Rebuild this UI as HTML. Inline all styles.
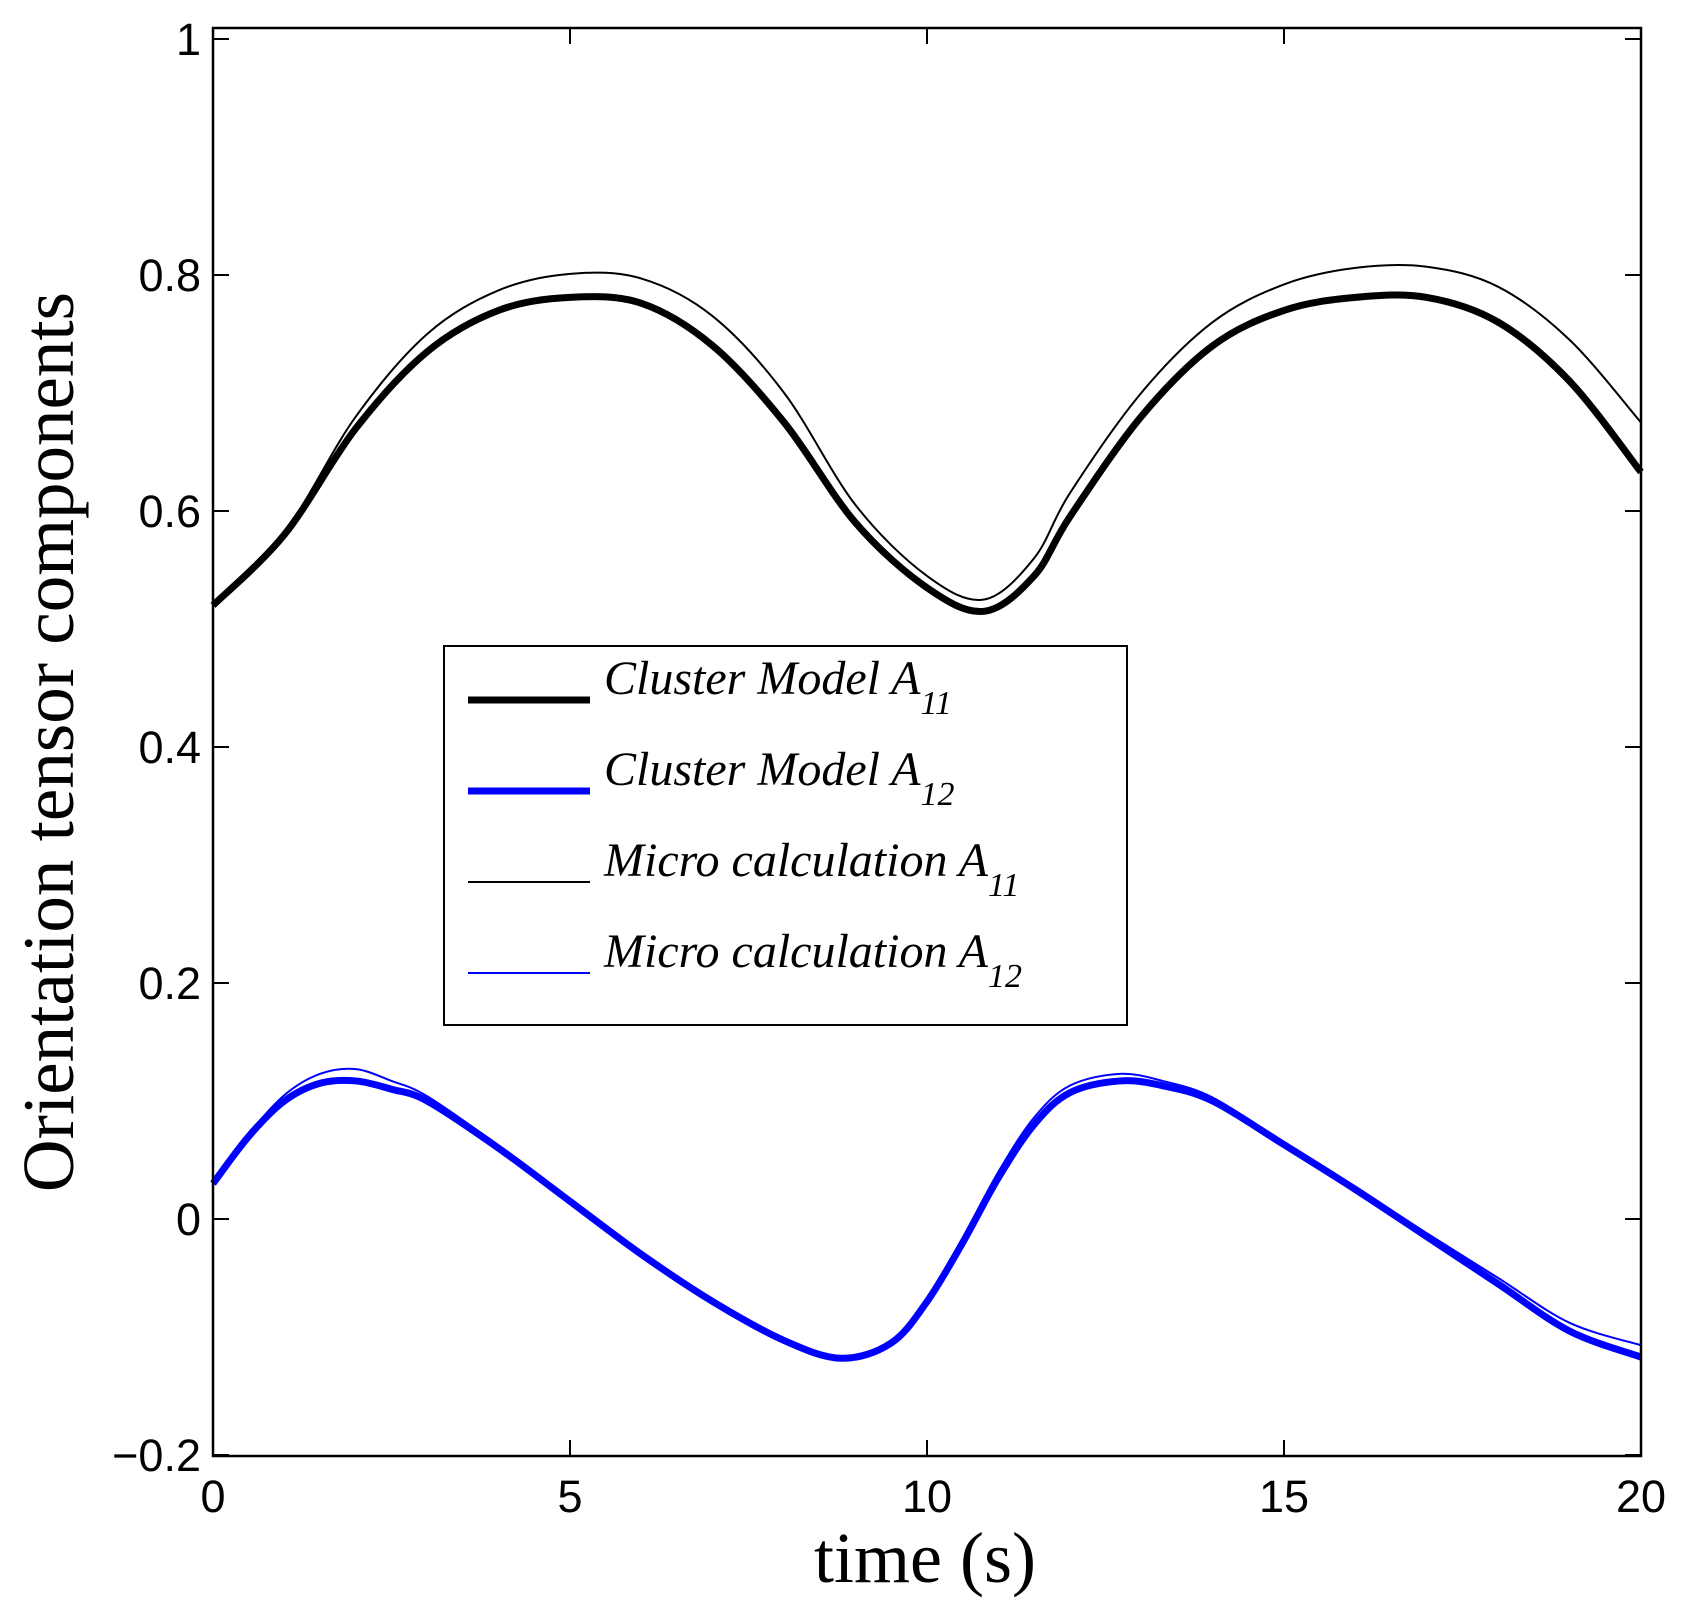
<!DOCTYPE html>
<html><head><meta charset="utf-8"><style>body{margin:0;background:#fff}svg{display:block}</style></head>
<body>
<svg id="chart" width="1686" height="1615" xmlns="http://www.w3.org/2000/svg">
<g id="plot"></g>
</svg>
<script>
const tTicks=[0,5,10,15,20];
const yTicks=[-0.2,0,0.2,0.4,0.6,0.8,1];
const yTickLabels=["\u22120.2","0","0.2","0.4","0.6","0.8","1"];
const tA11=[0,1,2,3,4,5,6,7,8,9,10,10.8,11.5,12,13,14,15,16,17,18,19,20];
const clusterA11=[0.52,0.58,0.67,0.735,0.77,0.781,0.776,0.74,0.675,0.59,0.535,0.515,0.545,0.595,0.68,0.74,0.77,0.781,0.781,0.76,0.71,0.633];
const microA11=[0.52,0.582,0.68,0.75,0.787,0.801,0.797,0.765,0.70,0.605,0.545,0.525,0.56,0.615,0.70,0.76,0.792,0.806,0.807,0.79,0.745,0.675];
const tA12=[0,0.5,1,1.5,2,2.5,3,4,5,6,7,8,8.8,9.5,10,10.5,11,11.5,12,12.7,13.3,14,15,16,17,18,19,20];
const clusterA12=[0.03,0.07,0.1,0.115,0.117,0.11,0.1,0.06,0.015,-0.03,-0.07,-0.103,-0.118,-0.105,-0.07,-0.02,0.035,0.08,0.107,0.117,0.113,0.1,0.063,0.025,-0.015,-0.055,-0.095,-0.117];
const microA12=[0.03,0.072,0.105,0.123,0.127,0.117,0.104,0.062,0.016,-0.03,-0.07,-0.103,-0.117,-0.103,-0.068,-0.016,0.04,0.086,0.113,0.123,0.117,0.103,0.065,0.027,-0.012,-0.05,-0.088,-0.107];
const X0=213,X1=1641,YT=28,YB=1456;
const xs=t=>X0+(t/20)*(X1-X0);
const ys=v=>1219-(v/0.2)*236;
const NS="http://www.w3.org/2000/svg";
const g=document.getElementById('plot');
function mk(tag,attrs){const e=document.createElementNS(NS,tag);for(const k in attrs)e.setAttribute(k,attrs[k]);g.appendChild(e);return e;}
function path(ts,vs){
  const p=ts.map((t,i)=>[xs(t),ys(vs[i])]);
  let d="M"+p[0][0]+","+p[0][1];
  for(let i=0;i<p.length-1;i++){
    const p0=p[i-1]||p[i],p1=p[i],p2=p[i+1],p3=p[i+2]||p2;
    const c1=[p1[0]+(p2[0]-p0[0])/6,p1[1]+(p2[1]-p0[1])/6];
    const c2=[p2[0]-(p3[0]-p1[0])/6,p2[1]-(p3[1]-p1[1])/6];
    d+=" C"+c1+" "+c2+" "+p2;
  }
  return d;
}
let e;
e=mk('path',{d:path(tA11,clusterA11),fill:'none',stroke:'#000','stroke-width':7});


e=mk('path',{d:path(tA11,microA11),fill:'none',stroke:'#000','stroke-width':2});


e=mk('path',{d:path(tA12,clusterA12),fill:'none',stroke:'#0000ff','stroke-width':7});


e=mk('path',{d:path(tA12,microA12),fill:'none',stroke:'#0000ff','stroke-width':2});


e=mk('rect',{x:X0,y:YT,width:X1-X0,height:YB-YT,fill:'none',stroke:'#000','stroke-width':2.5});


tTicks.forEach(t=>{
  e=mk('path',{d:`M${xs(t)},${YB}v-16M${xs(t)},${YT}v16`,stroke:'#000','stroke-width':2});
  
  
  e=mk('text',{x:xs(t),y:YB+56,'text-anchor':'middle','font-family':'Liberation Sans, sans-serif','font-size':45});
  e.textContent=t;
  
  
});
yTicks.forEach((v,i)=>{
  e=mk('path',{d:`M${X0},${ys(v)}h16M${X1},${ys(v)}h-16`,stroke:'#000','stroke-width':2});
  
  
  e=mk('text',{x:X0-12,y:ys(v)+16,'text-anchor':'end','font-family':'Liberation Sans, sans-serif','font-size':45});
  e.textContent=yTickLabels[i];
  
  
});
e=mk('text',{x:925,y:1582,'text-anchor':'middle','font-family':'Liberation Serif, serif','font-size':72});
e.textContent='time (s)';


e=mk('text',{x:0,y:0,'text-anchor':'middle','font-family':'Liberation Serif, serif','font-size':73,transform:'translate(73,742) rotate(-90)'});
e.textContent='Orientation tensor components';


e=mk('rect',{x:444,y:646,width:683,height:379,fill:'#fff',stroke:'#000','stroke-width':2});


const legNames=['Cluster Model A','Cluster Model A','Micro calculation A','Micro calculation A'];
const legSubs=['11','12','11','12'];
const legColors=['#000','#0000ff','#000','#0000ff'];
const legWidths=[7,7,2,2];
const legYs=[700,791,882,973];
legNames.forEach((n,i)=>{
  e=mk('line',{x1:468,x2:590,y1:legYs[i],y2:legYs[i],stroke:legColors[i],'stroke-width':legWidths[i]});
  
  
  e=mk('text',{x:604,y:legYs[i]-6,'font-family':'Liberation Serif, serif','font-style':'italic','font-size':48});
  e.innerHTML=n+'<tspan font-size="34" dy="20">'+legSubs[i]+'</tspan>';
  
  
});
</script>
</body></html>
